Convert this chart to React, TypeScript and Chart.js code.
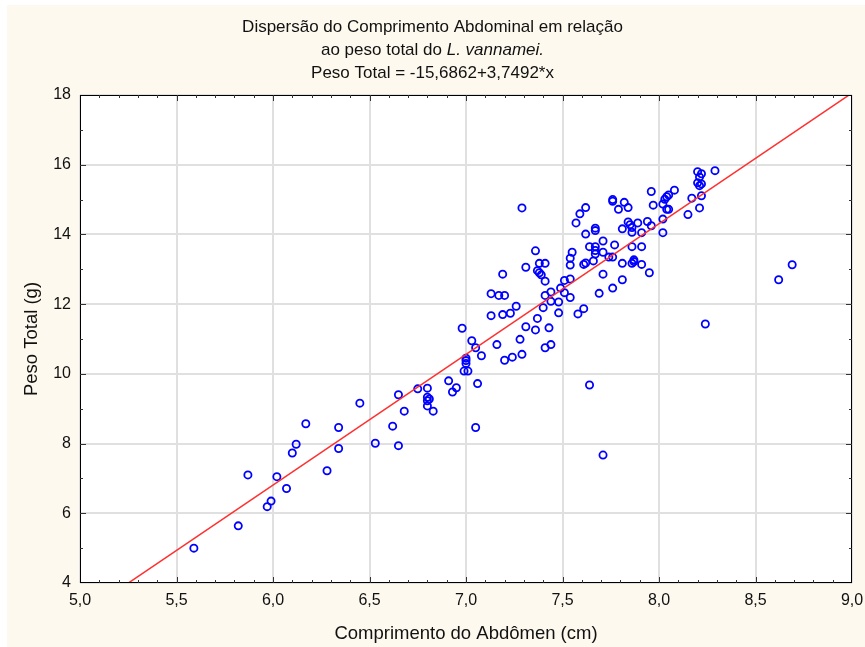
import React, { useEffect, useRef } from 'react';
import { Chart, registerables } from 'chart.js';

Chart.register(...registerables);

// ---- Data ----
const abdomenLength = [
  5.59, 5.82, 5.87, 5.97, 5.99, 6.02, 6.07, 6.10, 6.12, 6.17,
  6.28, 6.34, 6.34, 6.45, 6.53, 6.65, 6.62, 6.65, 6.68, 6.75,
  6.80, 6.80, 6.81, 6.80, 6.80, 6.83, 6.91, 6.93, 6.95, 6.98,
  7.00, 7.00, 7.00, 6.99, 7.01, 7.03, 7.05, 7.08, 7.06, 7.05,
  7.13, 7.19, 7.23, 7.26, 7.16, 7.20, 7.24, 7.29, 7.28, 7.31,
  7.36, 7.37, 7.13, 7.19, 7.17, 7.20, 7.29, 7.31, 7.36, 7.38,
  7.41, 7.37, 7.38, 7.39, 7.41, 7.43, 7.41, 7.44, 7.40, 7.41,
  7.44, 7.44, 7.48, 7.48, 7.49, 7.51, 7.54, 7.51, 7.54, 7.58,
  7.61, 7.54, 7.54, 7.55, 7.61, 7.62, 7.57, 7.59, 7.62, 7.62,
  7.64, 7.67, 7.67, 7.67, 7.67, 7.67, 7.71, 7.71, 7.66, 7.71,
  7.69, 7.76, 7.77, 7.74, 7.76, 7.81, 7.81, 7.76, 7.76, 7.82,
  7.84, 7.79, 7.81, 7.84, 7.85, 7.86, 7.86, 7.89, 7.86, 7.91,
  7.87, 7.87, 7.86, 7.91, 7.95, 7.91, 7.94, 7.96, 7.96, 7.97,
  8.02, 8.03, 8.04, 8.05, 8.04, 8.05, 8.02, 8.02, 8.08, 8.15,
  8.17, 8.21, 8.22, 8.20, 8.22, 8.21, 8.20, 8.22, 8.21, 8.29,
  8.62, 8.69, 8.24, 7.64, 7.71,
];

const totalWeight = [
  5.00, 5.64, 7.10, 6.19, 6.35, 7.05, 6.71, 7.73, 7.98, 8.57,
  7.22, 8.46, 7.86, 9.16, 8.01, 7.94, 8.50, 9.40, 8.93, 9.57,
  9.59, 9.33, 9.28, 9.23, 9.08, 8.93, 9.80, 9.48, 9.60, 11.31,
  10.45, 10.38, 10.30, 10.08, 10.08, 10.95, 10.75, 10.52, 9.72, 8.46,
  11.67, 11.70, 11.74, 11.94, 10.84, 10.39, 10.48, 10.56, 10.99, 11.35,
  11.26, 11.59, 12.30, 12.86, 12.25, 12.25, 14.76, 13.06, 13.53, 13.17,
  13.17, 12.96, 12.90, 12.84, 12.66, 11.32, 10.75, 10.84, 11.90, 12.25,
  12.35, 12.08, 12.06, 11.75, 12.46, 12.68, 12.72, 12.33, 12.19, 11.72,
  11.87, 13.12, 13.32, 13.49, 13.14, 13.18, 14.33, 14.59, 14.77, 14.01,
  13.65, 14.18, 14.11, 13.65, 13.54, 13.44, 13.81, 13.49, 13.24, 12.86,
  12.31, 12.46, 13.70, 13.35, 13.35, 13.17, 12.70, 15.00, 14.95, 14.92,
  14.77, 14.72, 14.16, 14.36, 14.28, 14.20, 14.06, 14.33, 13.65, 13.65,
  13.27, 13.22, 13.17, 13.14, 12.90, 14.05, 14.37, 14.25, 15.23, 14.84,
  14.87, 15.01, 15.08, 15.13, 14.72, 14.72, 14.44, 14.05, 15.27, 14.57,
  15.04, 14.76, 15.11, 15.80, 15.74, 15.65, 15.48, 15.45, 15.40, 15.83,
  12.70, 13.13, 11.43, 9.68, 7.67,
];

// Fitted line stated in the chart title: Peso Total = -15,6862 + 3,7492*x
const INTERCEPT = -15.6862;
const SLOPE = 3.7492;

const X_RANGE = [5, 9];
const Y_RANGE = [4, 18];
const X_STEP = 0.5;
const Y_STEP = 2;
const X_MINOR = 0.1;
const Y_MINOR = 1;

const TITLE_LINE_1 = 'Dispersão do Comprimento Abdominal em relação';
const TITLE_LINE_2A = 'ao peso total do ';
const TITLE_LINE_2B = 'L. vannamei.';
const TITLE_LINE_3 = 'Peso Total = -15,6862+3,7492*x';
const X_TITLE = 'Comprimento do Abdômen (cm)';
const Y_TITLE = 'Peso Total (g)';

const FONT = "'Liberation Sans', Arial, sans-serif";
const CREAM = '#fdf9ef';
const TEXT = '#111111';

const decoPlugin = {
  id: 'deco',
  beforeDraw(chart: any) {
    const { ctx, width, height, chartArea } = chart;
    ctx.save();
    ctx.fillStyle = '#ffffff';
    ctx.fillRect(0, 0, width, height);
    ctx.fillStyle = CREAM;
    ctx.fillRect(7, 5, width - 7, height - 5);
    ctx.fillStyle = '#ffffff';
    ctx.fillRect(chartArea.left, chartArea.top, chartArea.right - chartArea.left, chartArea.bottom - chartArea.top);
    ctx.restore();
  },
  afterDraw(chart: any) {
    const { ctx, chartArea, scales } = chart;
    const xs = scales.x;
    const ys = scales.y;
    const { left, right, top, bottom } = chartArea;
    ctx.save();
    ctx.strokeStyle = '#000000';
    ctx.lineWidth = 1;
    ctx.strokeRect(Math.round(left) + 0.5, Math.round(top) + 0.5, Math.round(right - left) - 1, Math.round(bottom - top) - 1);

    ctx.strokeStyle = '#333333';
    ctx.beginPath();
    const nx = Math.round((X_RANGE[1] - X_RANGE[0]) / X_MINOR);
    for (let i = 1; i < nx; i++) {
      const v = X_RANGE[0] + i * X_MINOR;
      const major = i % Math.round(X_STEP / X_MINOR) === 0;
      const len = major ? 6 : 3;
      const px = Math.round(xs.getPixelForValue(v)) + 0.5;
      ctx.moveTo(px, bottom);
      ctx.lineTo(px, bottom - len);
      ctx.moveTo(px, top);
      ctx.lineTo(px, top + len);
    }
    const ny = Math.round((Y_RANGE[1] - Y_RANGE[0]) / Y_MINOR);
    for (let i = 1; i < ny; i++) {
      const v = Y_RANGE[0] + i * Y_MINOR;
      const major = i % Math.round(Y_STEP / Y_MINOR) === 0;
      const len = major ? 6 : 3;
      const py = Math.round(ys.getPixelForValue(v)) + 0.5;
      ctx.moveTo(left, py);
      ctx.lineTo(left + len, py);
      ctx.moveTo(right, py);
      ctx.lineTo(right - len, py);
    }
    ctx.stroke();

    // Title (three lines, with an italic species name)
    const cx = chart.width / 2;
    ctx.fillStyle = TEXT;
    ctx.textBaseline = 'middle';
    ctx.textAlign = 'left';
    const normal = `17px ${FONT}`;
    const italic = `italic 17px ${FONT}`;
    ctx.font = normal;
    const w1 = ctx.measureText(TITLE_LINE_1).width;
    ctx.fillText(TITLE_LINE_1, cx - w1 / 2, 27);
    const wa = ctx.measureText(TITLE_LINE_2A).width;
    ctx.font = italic;
    const wb = ctx.measureText(TITLE_LINE_2B).width;
    const start2 = cx - (wa + wb) / 2;
    ctx.font = normal;
    ctx.fillText(TITLE_LINE_2A, start2, 50);
    ctx.font = italic;
    ctx.fillText(TITLE_LINE_2B, start2 + wa, 50);
    ctx.font = normal;
    const w3 = ctx.measureText(TITLE_LINE_3).width;
    ctx.fillText(TITLE_LINE_3, cx - w3 / 2, 73);
    ctx.restore();
  },
};

export default function App() {
  const ref = useRef<HTMLCanvasElement | null>(null);

  useEffect(() => {
    document.body.style.margin = '0';
    const canvas = ref.current;
    if (!canvas) return;
    const points = abdomenLength.map((x, i) => ({ x, y: totalWeight[i] }));
    const fit = X_RANGE.map((x) => ({ x, y: INTERCEPT + SLOPE * x }));

    const chart = new Chart(canvas, {
      type: 'scatter',
      data: {
        datasets: [
          {
            type: 'scatter',
            data: points,
            pointStyle: 'circle',
            pointRadius: 3.6,
            pointBorderWidth: 1.8,
            borderColor: '#0000ff',
            backgroundColor: 'rgba(0,0,0,0)',
            order: 2,
          } as any,
          {
            type: 'line',
            data: fit,
            borderColor: '#ff3030',
            borderWidth: 1.5,
            pointRadius: 0,
            fill: false,
            tension: 0,
            order: 1,
          } as any,
        ],
      },
      options: {
        animation: false,
        responsive: false,
        devicePixelRatio: 1,
        layout: { padding: { left: 0, right: 13, top: 95, bottom: 0 } },
        plugins: {
          legend: { display: false },
          tooltip: { enabled: false },
          title: { display: false },
        },
        scales: {
          x: {
            type: 'linear',
            min: X_RANGE[0],
            max: X_RANGE[1],
            afterFit: (s: any) => {
              s.height = 64;
              s.paddingLeft = 0;
              s.paddingRight = 0;
            },
            ticks: {
              stepSize: X_STEP,
              autoSkip: false,
              maxRotation: 0,
              padding: 8,
              color: TEXT,
              font: { family: FONT, size: 16 },
              callback: (v: any) => Number(v).toFixed(1).replace('.', ','),
            },
            grid: { color: '#e0e0e0', lineWidth: 2, drawTicks: false },
            border: { display: false },
            title: {
              display: true,
              text: X_TITLE,
              color: TEXT,
              font: { family: FONT, size: 18.5 },
              padding: { top: 0, bottom: 2 },
            },
          },
          y: {
            type: 'linear',
            min: Y_RANGE[0],
            max: Y_RANGE[1],
            afterFit: (s: any) => {
              s.width = 80;
              s.paddingTop = 0;
              s.paddingBottom = 0;
            },
            ticks: {
              stepSize: Y_STEP,
              autoSkip: false,
              padding: 9,
              color: TEXT,
              font: { family: FONT, size: 16 },
            },
            grid: { color: '#e0e0e0', lineWidth: 2, drawTicks: false },
            border: { display: false },
            title: {
              display: true,
              text: Y_TITLE,
              color: TEXT,
              font: { family: FONT, size: 18.5 },
              padding: { top: 21, bottom: 0 },
            },
          },
        },
      },
      plugins: [decoPlugin],
    } as any);

    return () => chart.destroy();
  }, []);

  return <canvas ref={ref} width={865} height={647} style={{ display: 'block' }} />;
}
